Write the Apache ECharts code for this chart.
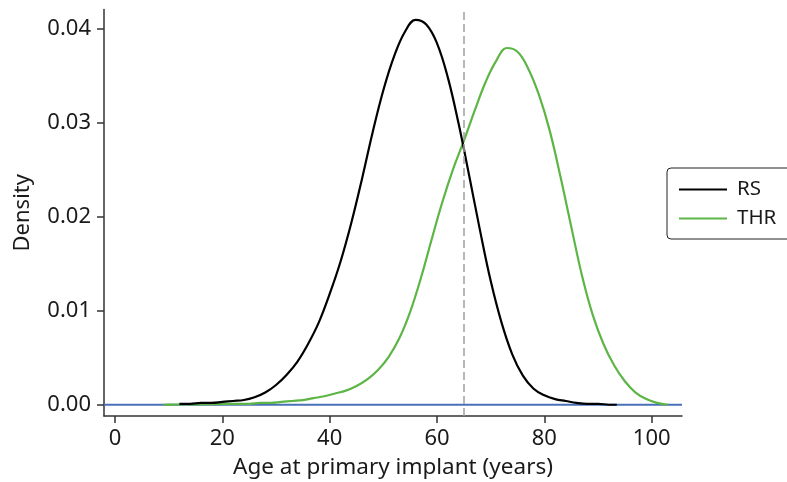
<!DOCTYPE html>
<html>
<head>
<meta charset="utf-8">
<script src="https://cdn.jsdelivr.net/npm/echarts@6/dist/echarts.min.js"></script>
<style>
  html, body { margin: 0; padding: 0; background: #fff; }
  #chart { width: 787px; height: 482px; }
</style>
</head>
<body>
<div id="chart"></div>
<script>
// ages (years) and densities
var rsAge = [12, 14, 16, 18, 20, 22, 24, 26, 28, 30, 32, 34, 36, 38, 40, 42, 44, 46, 48, 50, 52, 54, 56, 58, 60, 62, 64, 66, 68, 70, 72, 74, 76, 78, 80, 82, 84, 86, 88, 90, 92, 93.5];
var rsDensity = [0.0001, 0.0001, 0.0002, 0.0002, 0.0003, 0.0004, 0.0005, 0.0008, 0.0013, 0.0021, 0.0032, 0.0046, 0.0065, 0.0088, 0.0118, 0.0152, 0.0193, 0.0240, 0.0290, 0.0335, 0.0371, 0.0397, 0.0410, 0.0405, 0.0385, 0.0349, 0.0300, 0.0244, 0.0186, 0.0132, 0.0088, 0.0054, 0.0031, 0.0017, 0.0010, 0.0006, 0.0004, 0.0002, 0.0001, 0.0001, 0.0000, 0.0000];

var thrAge = [9, 11, 13, 15, 17, 19, 21, 23, 25, 27, 29, 31, 33, 35, 37, 39, 41, 43, 45, 47, 49, 51, 53, 55, 57, 59, 61, 63, 65, 67, 69, 71, 73, 75, 77, 79, 81, 83, 85, 87, 89, 91, 93, 95, 97, 99, 101, 103];
var thrDensity = [0.0000, 0.00002, 0.00003, 0.00004, 0.00005, 0.00007, 0.0001, 0.0001, 0.0001, 0.0002, 0.0002, 0.0003, 0.0004, 0.0005, 0.0007, 0.0009, 0.0012, 0.0015, 0.0020, 0.0027, 0.0037, 0.0051, 0.0071, 0.0099, 0.0135, 0.0176, 0.0216, 0.0251, 0.0281, 0.0313, 0.0343, 0.0366, 0.0380, 0.0376, 0.0358, 0.0330, 0.0292, 0.0243, 0.0190, 0.0138, 0.0096, 0.0065, 0.0042, 0.0025, 0.0013, 0.0006, 0.0002, 0.0000];

var xTicks = [0, 20, 40, 60, 80, 100];
var yTicks = [0, 0.01, 0.02, 0.03, 0.04];
var cutoffAge = 65;

var xMin = -2.05, xMax = 105.65;
var yMin = -0.0012, yMax = 0.0421;

function pairs(xs, ys) {
  return xs.map(function (x, i) { return [x, ys[i]]; });
}

var font = '"Noto Sans", "Open Sans", sans-serif';
var axisColor = '#333';
var textColor = '#1a1a1a';

var myChart = echarts.init(document.getElementById('chart'));
myChart.setOption({
  animation: false,
  grid: { left: 104, right: 105, top: 9.5, bottom: 66, containLabel: false, outerBoundsMode: 'none' },
  legend: {
    orient: 'vertical',
    left: 667,
    top: 168,
    data: ['RS', 'THR'],
    icon: 'rect',
    itemWidth: 48,
    itemHeight: 2,
    itemGap: 8,
    padding: [11, 20, 10, 12],
    borderColor: '#222',
    borderWidth: 1,
    borderRadius: 4,
    textStyle: { fontFamily: font, fontSize: 20.5, color: textColor, padding: [0, 0, 0, 5] }
  },
  xAxis: {
    type: 'value',
    min: xMin,
    max: xMax,
    name: 'Age at primary implant (years)',
    nameLocation: 'middle',
    nameGap: 40,
    nameTextStyle: { fontFamily: font, fontSize: 22.5, color: textColor },
    splitLine: { show: false },
    axisLine: { show: true, onZero: false, lineStyle: { color: axisColor, width: 1.5 } },
    axisTick: { show: true, length: 7, customValues: xTicks, lineStyle: { color: axisColor, width: 1.5 } },
    axisLabel: { customValues: xTicks, margin: 12, fontFamily: font, fontSize: 22, color: textColor }
  },
  yAxis: {
    type: 'value',
    min: yMin,
    max: yMax,
    name: 'Density',
    nameLocation: 'middle',
    nameGap: 70,
    nameTextStyle: { fontFamily: font, fontSize: 22, color: textColor },
    splitLine: { show: false },
    axisLine: { show: true, onZero: false, lineStyle: { color: axisColor, width: 1.5 } },
    axisTick: { show: true, length: 7, customValues: yTicks, lineStyle: { color: axisColor, width: 1.5 } },
    axisLabel: {
      customValues: yTicks,
      margin: 13,
      fontFamily: font, fontSize: 22, color: textColor,
      formatter: function (v) { return v.toFixed(2); }
    }
  },
  series: [
    {
      name: 'baseline',
      type: 'line',
      symbol: 'none',
      silent: true,
      data: [[xMin, 0], [xMax, 0]],
      lineStyle: { color: '#4a70b8', width: 2 },
      z: 1,
      markLine: {
        silent: true,
        symbol: 'none',
        label: { show: false },
        lineStyle: { color: '#a0a0a0', width: 1.5, type: [8, 4] },
        data: [{ xAxis: cutoffAge }]
      }
    },
    {
      name: 'RS',
      type: 'line',
      symbol: 'none',
      smooth: 0.4,
      smoothConstraint: false,
      data: pairs(rsAge, rsDensity),
      itemStyle: { color: '#000' },
      lineStyle: { color: '#000', width: 2.2 },
      z: 3
    },
    {
      name: 'THR',
      type: 'line',
      symbol: 'none',
      smooth: 0.4,
      smoothConstraint: false,
      data: pairs(thrAge, thrDensity),
      itemStyle: { color: '#5db546' },
      lineStyle: { color: '#5db546', width: 2.2 },
      z: 2
    }
  ]
});
</script>
</body>
</html>
